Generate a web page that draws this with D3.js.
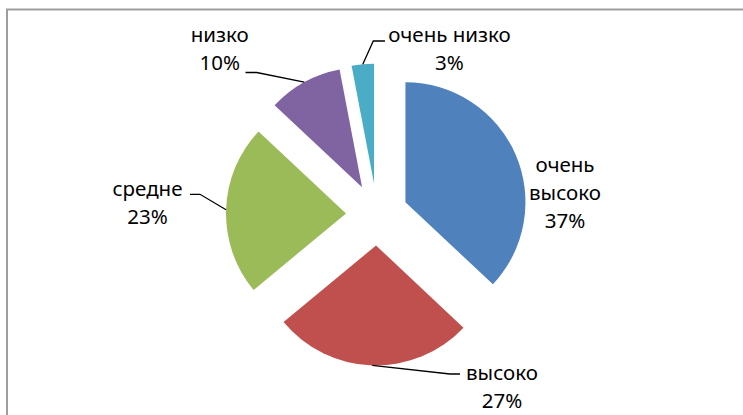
<!DOCTYPE html>
<html>
<head>
<meta charset="utf-8">
<script src="https://cdn.jsdelivr.net/npm/d3@7"></script>
<style>
  html, body { margin: 0; padding: 0; background: #fff; }
  svg { display: block; }
  .lbl { font-family: "Noto Sans", sans-serif; font-size: 20.5px; fill: #000; }
</style>
</head>
<body>
<div id="chart"></div>
<script>
const categories = ['очень высоко', 'высоко', 'средне', 'низко', 'очень низко'];
const values = [37, 27, 23, 10, 3];
const colors = ['#4f81bd', '#c0504d', '#9bbb59', '#8064a2', '#4bacc6'];

// label placement (centre x, first baseline, wrap name, leader elbow + end)
const labelLayout = [
  { x: 565, y: 171.5, wrap: true, leader: null },
  { x: 502, y: 380, wrap: false, leader: [[450, 374], [460, 374]] },
  { x: 147.5, y: 196, wrap: false, leader: [[200, 194.3], [190, 194.3]] },
  { x: 219.7, y: 42, wrap: false, leader: [[256.7, 72.5], [245.5, 72.5]] },
  { x: 449.5, y: 42, wrap: false, leader: [[373.3, 41], [385, 41]] },
];

const W = 743, H = 415;
const cx = 377, cy = 214.5, R = 120, explode = 31, lineH = 28.4;

const svg = d3.select('#chart').append('svg')
  .attr('width', W)
  .attr('height', H)
  .attr('viewBox', `0 0 ${W} ${H}`);

// chart area frame (runs off the right and bottom edge)
svg.append('rect')
  .attr('x', 7).attr('y', 9.5)
  .attr('width', 800).attr('height', 500)
  .attr('fill', 'none')
  .attr('stroke', '#9d9d9d')
  .attr('stroke-width', 2);

const pie = d3.pie().sort(null).value(d => d)(values);
const arc = d3.arc().innerRadius(0).outerRadius(R);

const offset = (a, r) => [r * Math.sin(a), -r * Math.cos(a)];

const g = svg.append('g').attr('transform', `translate(${cx},${cy})`);

g.selectAll('path.slice')
  .data(pie)
  .join('path')
  .attr('class', 'slice')
  .attr('d', arc)
  .attr('fill', (d, i) => colors[i])
  .attr('transform', d => {
    const [dx, dy] = offset((d.startAngle + d.endAngle) / 2, explode);
    return `translate(${dx},${dy})`;
  });

// leader lines from the arc midpoint of each slice
const line = d3.line();
pie.forEach((d, i) => {
  const lay = labelLayout[i];
  if (!lay.leader) return;
  const mid = (d.startAngle + d.endAngle) / 2;
  const [ex, ey] = offset(mid, explode);
  const [ax, ay] = offset(mid, R);
  const pts = [[cx + ex + ax, cy + ey + ay], ...lay.leader];
  svg.append('path')
    .attr('d', line(pts))
    .attr('fill', 'none')
    .attr('stroke', '#000')
    .attr('stroke-width', 1.3);
});

// data labels
const pct = v => `${v}%`;
categories.forEach((name, i) => {
  const lay = labelLayout[i];
  const lines = (lay.wrap ? name.split(' ') : [name]).concat(pct(values[i]));
  const t = svg.append('text')
    .attr('class', 'lbl')
    .attr('text-anchor', 'middle');
  lines.forEach((s, k) => {
    t.append('tspan')
      .attr('x', lay.x)
      .attr('y', lay.y + k * lineH)
      .text(s);
  });
});
</script>
</body>
</html>
